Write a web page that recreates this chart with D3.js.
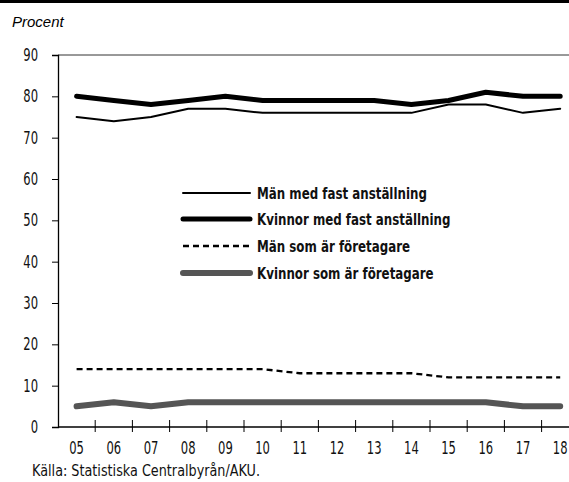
<!DOCTYPE html>
<html>
<head>
<meta charset="utf-8">
<script src="https://cdn.jsdelivr.net/npm/d3@7"></script>
<style>
  body { margin: 0; background: #fff; }
  svg { display: block; }
  .cond { font-family: "DejaVu Sans", sans-serif; }
</style>
</head>
<body>
<div id="chart"></div>
<script>
// Data
var years = ["05","06","07","08","09","10","11","12","13","14","15","16","17","18"]
var manFast = [75,74,75,77,77,76,76,76,76,76,78,78,76,77]
var kvinnorFast = [80,79,78,79,80,79,79,79,79,78,79,81,80,80]
var manForetag = [14,14,14,14,14,14,13,13,13,13,12,12,12,12]
var kvinnorForetag = [5,6,5,6,6,6,6,6,6,6,6,6,5,5]
var yTicks = [0,10,20,30,40,50,60,70,80,90]

var seriesNames = ["Män med fast anställning", "Kvinnor med fast anställning", "Män som är företagare", "Kvinnor som är företagare"]

var W = 569, H = 482
var margin = {top: 55, left: 58, bottom: 55}
var plotBottom = H - margin.bottom

// narrow the installed fonts so they look like the condensed face of the original
function squeeze(sel, k) {
  sel.each(function() {
    var w = this.getComputedTextLength()
    d3.select(this).attr("textLength", w * k).attr("lengthAdjust", "spacingAndGlyphs")
  })
}

var svg = d3.select("#chart").append("svg")
    .attr("width", W)
    .attr("height", H)

// top black rule
svg.append("rect").attr("x", 0).attr("y", 0).attr("width", W).attr("height", 3).attr("fill", "#000")

svg.append("text")
    .attr("x", 12).attr("y", 27)
    .style("font-family", "Liberation Sans, Arial, sans-serif")
    .style("font-style", "italic")
    .style("font-size", "15px")
    .text("Procent")

var x = d3.scaleBand().domain(years).range([margin.left, margin.left + 14 * 37.2])
var y = d3.scaleLinear().domain([0, 90]).range([plotBottom, margin.top])

// top frame line
svg.append("line")
    .attr("x1", margin.left).attr("x2", W)
    .attr("y1", y(90)).attr("y2", y(90))
    .attr("stroke", "#333").attr("stroke-width", 1)

// y axis
var yAxis = svg.append("g")
    .attr("transform", "translate(" + margin.left + ",0)")
    .call(d3.axisLeft(y).tickValues(yTicks).tickSize(6).tickPadding(14))
yAxis.select(".domain").attr("stroke", "#000").attr("stroke-width", 1.3)
yAxis.selectAll(".tick line").attr("stroke", "#000")
yAxis.selectAll("text").attr("class", "cond").style("font-size", "17px").attr("fill", "#111")
squeeze(yAxis.selectAll("text"), 0.68)

// x axis
var xAxis = svg.append("g")
    .attr("transform", "translate(0," + plotBottom + ")")
    .call(d3.axisBottom(x).tickSize(0).tickPadding(15))
xAxis.select(".domain").remove()
xAxis.selectAll("text").attr("class", "cond").style("font-size", "17px").attr("fill", "#111")
squeeze(xAxis.selectAll("text"), 0.68)
svg.append("line")
    .attr("x1", margin.left).attr("x2", W)
    .attr("y1", plotBottom).attr("y2", plotBottom)
    .attr("stroke", "#000").attr("stroke-width", 1.3)
svg.append("g").selectAll("line")
    .data(years.slice(1))
    .enter().append("line")
      .attr("x1", function(d) { return x(d) })
      .attr("x2", function(d) { return x(d) })
      .attr("y1", plotBottom - 7)
      .attr("y2", plotBottom + 5)
      .attr("stroke", "#000").attr("stroke-width", 1)

var styles = [
  {data: manFast, width: 2, color: "#000", dash: null},
  {data: kvinnorFast, width: 5, color: "#000", dash: null},
  {data: manForetag, width: 2.3, color: "#000", dash: "6,4"},
  {data: kvinnorForetag, width: 6, color: "#555", dash: null}
]

var line = d3.line()
    .x(function(d, i) { return x(years[i]) + x.bandwidth() / 2 })
    .y(function(d) { return y(d) })

// draw in back-to-front order
;[3, 2, 0, 1].forEach(function(k) {
  var s = styles[k]
  svg.append("path")
      .datum(s.data)
      .attr("d", line)
      .attr("fill", "none")
      .attr("stroke", s.color)
      .attr("stroke-width", s.width)
      .attr("stroke-linecap", s.dash ? "butt" : "round")
      .attr("stroke-linejoin", "round")
      .attr("stroke-dasharray", s.dash)
})

// legend
var legendY = [193, 219, 246, 273]
var lg = svg.append("g")
seriesNames.forEach(function(name, i) {
  var s = styles[i]
  lg.append("line")
      .attr("x1", 183).attr("x2", 250)
      .attr("y1", legendY[i]).attr("y2", legendY[i])
      .attr("stroke", s.color)
      .attr("stroke-width", s.width)
      .attr("stroke-linecap", s.dash ? "butt" : "round")
      .attr("stroke-dasharray", s.dash)
  lg.append("text")
      .attr("class", "cond")
      .attr("x", 257).attr("y", legendY[i] + 6)
      .style("font-size", "16px")
      .style("font-weight", "bold")
      .attr("fill", "#111")
      .text(name)
})
squeeze(lg.selectAll("text"), 0.74)

var src = svg.append("text")
    .attr("class", "cond")
    .attr("x", 32).attr("y", 476)
    .style("font-size", "16px")
    .attr("fill", "#111")
    .text("Källa: Statistiska Centralbyrån/AKU.")
squeeze(src, 0.8)
</script>
</body>
</html>
